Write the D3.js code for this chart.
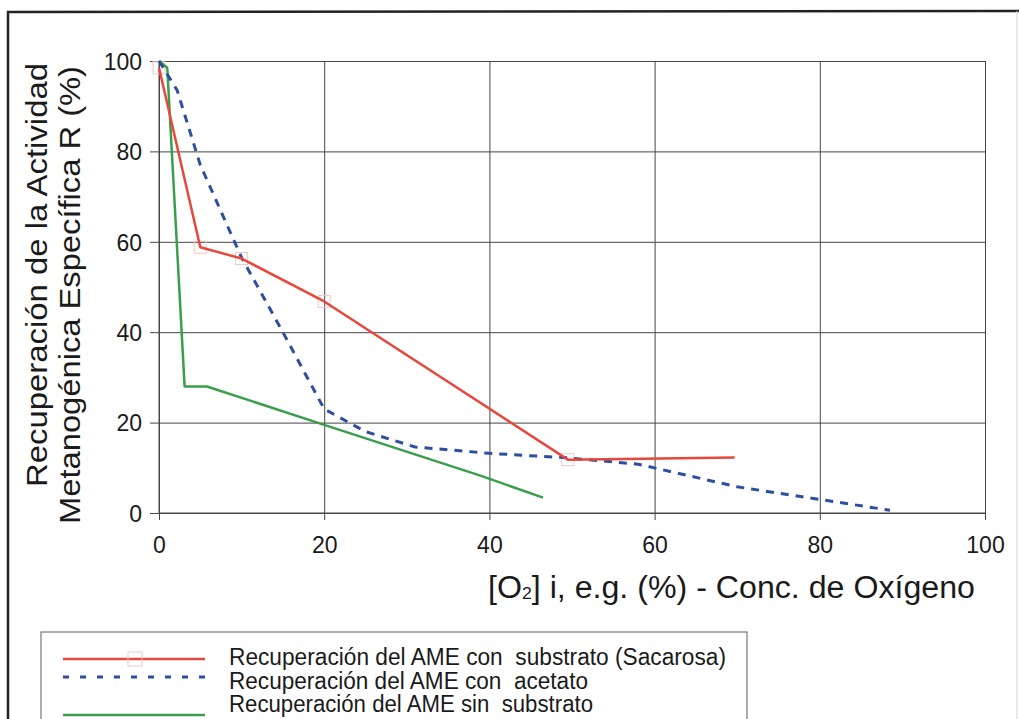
<!DOCTYPE html>
<html>
<head>
<meta charset="utf-8">
<script src="https://cdn.jsdelivr.net/npm/d3@7"></script>
<style>
  html, body { margin: 0; padding: 0; background: #fff; }
  svg { display: block; }
  text { font-family: "Liberation Sans", Arial, sans-serif; fill: #1a1a1a; white-space: pre; }
</style>
</head>
<body>
<svg id="chart" width="1019" height="719"></svg>
<script>
// ---- Data ----
const xTicks = [0, 20, 40, 60, 80, 100];
const yTicks = [0, 20, 40, 60, 80, 100];

const sacarosaX = [0, 5, 10, 20, 49.5, 69.7];
const sacarosaY = [98.5, 58.8, 56.3, 46.8, 11.8, 12.3];

const acetatoX = [0, 2.2, 5, 10, 15, 20, 25, 31, 40, 49.5, 58, 70, 80, 88.5];
const acetatoY = [100, 93.5, 77, 56.5, 40, 23, 18, 14.6, 13.2, 12.2, 10.8, 5.8, 3.0, 0.6];

const sinX = [0, 1, 3.1, 5.8, 20, 39, 46.5];
const sinY = [100, 98.5, 28, 28, 19.5, 8.2, 3.4];

const legendLabels = [
  "Recuperación del AME con  substrato (Sacarosa)",
  "Recuperación del AME con  acetato",
  "Recuperación del AME sin  substrato"
];

const seriesColors = ["#e8473b", "#2c4f9e", "#3a9e4c"];

// ---- Chart ----
const svg = d3.select("#chart");
svg.append("rect").attr("width", 1019).attr("height", 719).attr("fill", "#fff");

// outer frame
svg.append("path").attr("d", "M8,725 L8,12 L1019,11")
  .attr("fill", "none").attr("stroke", "#222").attr("stroke-width", 2.5);
svg.append("line").attr("x1", 1017).attr("x2", 1017).attr("y1", 11).attr("y2", 719)
  .attr("stroke", "#d0d0d0").attr("stroke-width", 1);

const x = d3.scaleLinear().domain([0, 100]).range([159, 985]);
const y = d3.scaleLinear().domain([0, 100]).range([513, 61]);

// grid + axes
const gridColor = "#464646";
const gx = svg.append("g").attr("transform", `translate(0,${y(0)})`)
  .call(d3.axisBottom(x).tickValues(xTicks).tickSizeInner(-(y(0) - y(100))).tickSizeOuter(0).tickFormat(""));
gx.select(".domain").remove();
gx.selectAll("line").attr("stroke", gridColor).attr("stroke-width", 1);

const gxl = svg.append("g").attr("transform", `translate(0,${y(0)})`)
  .call(d3.axisBottom(x).tickValues(xTicks).tickSize(7).tickPadding(0).tickFormat(d3.format("d")));
gxl.select(".domain").attr("stroke", gridColor).attr("d", `M${x(0)},0H${x(100)}`);
gxl.selectAll("line").attr("stroke", gridColor);
gxl.selectAll("text").attr("font-size", 23).attr("font-family", "Liberation Sans, Arial, sans-serif")
  .attr("fill", "#1a1a1a").attr("dy", null).attr("y", 40);

const gy = svg.append("g").attr("transform", `translate(${x(0)},0)`)
  .call(d3.axisLeft(y).tickValues(yTicks).tickSizeInner(-(x(100) - x(0))).tickSizeOuter(0).tickFormat(""));
gy.select(".domain").remove();
gy.selectAll("line").attr("stroke", gridColor).attr("stroke-width", 1);

const gyl = svg.append("g").attr("transform", `translate(${x(0)},0)`)
  .call(d3.axisLeft(y).tickValues(yTicks).tickSize(9).tickPadding(8).tickFormat(d3.format("d")));
gyl.select(".domain").attr("stroke", gridColor).attr("d", `M0,${y(0)}V${y(100)}`);
gyl.selectAll("line").attr("stroke", gridColor);
gyl.selectAll("text").attr("font-size", 23).attr("font-family", "Liberation Sans, Arial, sans-serif")
  .attr("fill", "#1a1a1a").attr("dy", "0.36em");

// lines
const line = d3.line().x(d => x(d[0])).y(d => y(d[1]));
const sac = d3.zip(sacarosaX, sacarosaY);
const ace = d3.zip(acetatoX, acetatoY);
const sin = d3.zip(sinX, sinY);

// faint square markers of the sacarosa series
svg.append("g").selectAll("rect").data(sac.slice(0, 5)).join("rect")
  .attr("x", d => x(d[0]) - 6).attr("y", d => y(d[1]) - 6)
  .attr("width", 12).attr("height", 12)
  .attr("fill", "none").attr("stroke", "#f1c9c6").attr("stroke-width", 1);

svg.append("path").datum(sin).attr("d", line)
  .attr("fill", "none").attr("stroke", seriesColors[2]).attr("stroke-width", 2.5).attr("stroke-linejoin", "round");
svg.append("path").datum(ace).attr("d", line)
  .attr("fill", "none").attr("stroke", seriesColors[1]).attr("stroke-width", 3).attr("stroke-dasharray", "8,7");
svg.append("path").datum(sac).attr("d", line)
  .attr("fill", "none").attr("stroke", seriesColors[0]).attr("stroke-width", 2.5).attr("stroke-linejoin", "round");

// axis titles
svg.append("text").attr("transform", "translate(47,275) rotate(-90)")
  .attr("text-anchor", "middle").attr("font-size", 30)
  .attr("textLength", 424).attr("lengthAdjust", "spacingAndGlyphs")
  .text("Recuperación de la Actividad");
svg.append("text").attr("transform", "translate(80,295) rotate(-90)")
  .attr("text-anchor", "middle").attr("font-size", 30)
  .attr("textLength", 458).attr("lengthAdjust", "spacingAndGlyphs")
  .text("Metanogénica Específica R (%)");

const xt = svg.append("text").attr("x", 488).attr("y", 598).attr("font-size", 31)
  .attr("textLength", 487).attr("lengthAdjust", "spacingAndGlyphs");
xt.append("tspan").text("[O");
xt.append("tspan").attr("font-size", 17).attr("dy", 1).text("2");
xt.append("tspan").attr("dy", -1).text("] i, e.g. (%) - Conc. de Oxígeno");

// legend
svg.append("rect").attr("x", 41).attr("y", 632).attr("width", 706).attr("height", 100)
  .attr("fill", "#fff").attr("stroke", "#777").attr("stroke-width", 1.2);
const legLineY = [659, 677, 715];
const legTextY = [665, 688.5, 712];
const legTextLen = [497, 359, 364];
const dashes = [null, "6,11", null];
legendLabels.forEach((lab, i) => {
  svg.append("line").attr("x1", 63).attr("x2", 205).attr("y1", legLineY[i]).attr("y2", legLineY[i])
    .attr("stroke", seriesColors[i]).attr("stroke-width", i === 1 ? 3 : 2.5)
    .attr("stroke-dasharray", dashes[i]);
  svg.append("text").attr("x", 229).attr("y", legTextY[i]).attr("font-size", 23)
    .attr("textLength", legTextLen[i]).attr("lengthAdjust", "spacingAndGlyphs")
    .text(lab);
});
svg.append("rect").attr("x", 128).attr("y", 652).attr("width", 14).attr("height", 14)
  .attr("fill", "none").attr("stroke", "#f1c9c6").attr("stroke-width", 1);
</script>
</body>
</html>
